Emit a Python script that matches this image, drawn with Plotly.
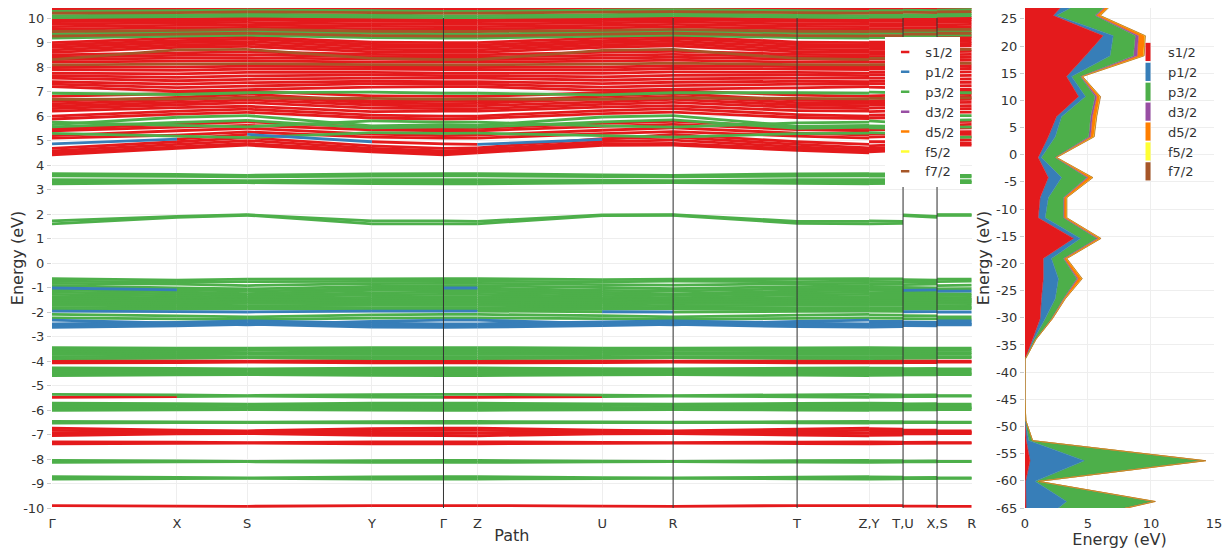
import plotly.graph_objects as go

# ---------------- band-structure path ----------------
tick_labels = ['Γ', 'X', 'S', 'Y', 'Γ', 'Z', 'U', 'R', 'T', 'Z,Y', 'T,U', 'X,S', 'R']
tick_positions = [0, 125, 195.3, 320, 391.6, 425.6, 550.3, 621.3, 745.3, 817.3, 851.3, 885.3, 920]
divider_positions = [391.6, 621.3, 745.3, 851.3, 885.3]
kpoints = ['Γ', 'X', 'S', 'Y', 'Z', 'U', 'R', 'T']
# (from k-point, to k-point, from tick index, to tick index)
path_segments = [
    ('Γ', 'X', 0, 1), ('X', 'S', 1, 2), ('S', 'Y', 2, 3), ('Y', 'Γ', 3, 4),
    ('Γ', 'Z', 4, 5), ('Z', 'U', 5, 6), ('U', 'R', 6, 7), ('R', 'T', 7, 8),
    ('T', 'Z', 8, 9), ('Y', 'T', 9, 10), ('U', 'X', 10, 11), ('S', 'R', 11, 12)]

orbital_names = ['s1/2', 'p1/2', 'p3/2', 'd3/2', 'd5/2', 'f5/2', 'f7/2']
orbital_colors = ['#e41a1c', '#377eb8', '#4daf4a', '#984ea3', '#ff7f00', '#ffff33', '#a65628']

# band energies (eV) at Γ, X, S, Y, Z, U, R, T ; colour code per band or per path segment
core_bands = [
    ('r', [-9.9, -9.92, -9.93, -9.9, -9.9, -9.92, -9.93, -9.9]),
    ('g', [-8.72, -8.75, -8.77, -8.73, -8.72, -8.76, -8.77, -8.74]),
    ('g', [-8.82, -8.8, -8.79, -8.82, -8.82, -8.8, -8.79, -8.81]),
    ('g', [-8.06, -8.08, -8.1, -8.07, -8.06, -8.09, -8.1, -8.07]),
    ('g', [-8.14, -8.12, -8.11, -8.14, -8.14, -8.12, -8.11, -8.13]),
    ('r', [-7.3, -7.31, -7.33, -7.3, -7.3, -7.32, -7.33, -7.31]),
    ('r', [-7.38, -7.36, -7.35, -7.38, -7.38, -7.36, -7.35, -7.37]),
    ('r', [-6.74, -6.82, -6.85, -6.76, -6.74, -6.82, -6.85, -6.78]),
    ('r', [-6.83, -6.87, -6.89, -6.84, -6.83, -6.88, -6.9, -6.86]),
    ('r', [-6.93, -6.92, -6.93, -6.93, -6.94, -6.92, -6.93, -6.94]),
    ('r', [-7.04, -6.97, -6.96, -7.03, -7.05, -6.97, -6.96, -7.02]),
    ('g', [-6.47, -6.49, -6.5, -6.48, -6.47, -6.49, -6.5, -6.48]),
    ('g', [-6.53, -6.51, -6.51, -6.52, -6.53, -6.51, -6.51, -6.52]),
    ('g', [-5.72, -5.74, -5.76, -5.72, -5.72, -5.75, -5.76, -5.73]),
    ('g', [-5.8, -5.78, -5.82, -5.8, -5.8, -5.79, -5.83, -5.8]),
    ('g', [-5.88, -5.88, -5.9, -5.87, -5.88, -5.89, -5.9, -5.88]),
    ('g', [-5.95, -5.93, -5.92, -5.95, -5.95, -5.93, -5.92, -5.94]),
    ('g', [-6.01, -5.99, -5.98, -6.0, -6.01, -5.99, -5.98, -6.0]),
    ('g', [-5.36, -5.38, -5.41, -5.37, -5.36, -5.39, -5.41, -5.38]),
    ('rgggrrgggggg', [-5.48, -5.45, -5.43, -5.47, -5.48, -5.45, -5.43, -5.46]),
    ('g', [-4.28, -4.3, -4.32, -4.29, -4.28, -4.31, -4.32, -4.29]),
    ('g', [-4.36, -4.38, -4.36, -4.37, -4.36, -4.38, -4.37, -4.37]),
    ('g', [-4.44, -4.42, -4.45, -4.43, -4.44, -4.43, -4.45, -4.44]),
    ('g', [-4.52, -4.5, -4.52, -4.52, -4.52, -4.5, -4.52, -4.51]),
    ('g', [-4.6, -4.56, -4.55, -4.59, -4.6, -4.56, -4.55, -4.58]),
    ('r', [-3.98, -4.0, -4.01, -3.98, -3.98, -4.0, -4.01, -3.99]),
    ('r', [-4.08, -4.06, -4.04, -4.08, -4.08, -4.06, -4.04, -4.07]),
    ('g', [-3.45, -3.47, -3.48, -3.45, -3.45, -3.47, -3.48, -3.46]),
    ('g', [-3.55, -3.53, -3.56, -3.55, -3.55, -3.54, -3.56, -3.55]),
    ('g', [-3.64, -3.62, -3.66, -3.63, -3.64, -3.62, -3.66, -3.64]),
    ('g', [-3.73, -3.72, -3.72, -3.73, -3.73, -3.71, -3.72, -3.73]),
    ('g', [-3.82, -3.8, -3.82, -3.82, -3.82, -3.81, -3.82, -3.82]),
    ('g', [-3.9, -3.88, -3.86, -3.9, -3.9, -3.88, -3.86, -3.89]),
]

valence_bands = [
    ('b', [-2.48, -2.42, -2.36, -2.45, -2.48, -2.4, -2.36, -2.45]),
    ('b', [-2.56, -2.5, -2.44, -2.54, -2.56, -2.48, -2.44, -2.52]),
    ('b', [-2.63, -2.56, -2.5, -2.62, -2.62, -2.55, -2.5, -2.6]),
    ('b', [-2.33, -2.45, -2.52, -2.38, -2.33, -2.47, -2.52, -2.38]),
    ('g', [-2.24, -2.28, -2.3, -2.25, -2.24, -2.27, -2.3, -2.26]),
    ('g', [-2.1, -2.16, -2.2, -2.12, -2.1, -2.15, -2.2, -2.13]),
    ('bbbbbgbgggbb', [-1.96, -1.98, -2.0, -1.96, -1.96, -1.99, -2.0, -1.97]),
    ('g', [-0.64, -0.7, -0.66, -0.65, -0.64, -0.68, -0.66, -0.65]),
    ('g', [-0.74, -0.78, -0.76, -0.75, -0.74, -0.77, -0.74, -0.76]),
    ('g', [-0.83, -0.86, -0.92, -0.84, -0.83, -0.88, -0.9, -0.85]),
    ('g', [-0.92, -1.02, -1.06, -0.95, -0.92, -1.0, -1.05, -0.96]),
    ('bgggbgggggbb', [-1.02, -1.1, -1.15, -1.04, -1.02, -1.12, -1.15, -1.05]),
    ('g', [-1.1, -1.18, -1.25, -1.12, -1.1, -1.2, -1.26, -1.14]),
    ('g', [-1.19, -1.26, -1.32, -1.22, -1.19, -1.28, -1.33, -1.22]),
    ('g', [-1.28, -1.34, -1.4, -1.3, -1.28, -1.36, -1.42, -1.3]),
    ('g', [-1.37, -1.42, -1.46, -1.4, -1.37, -1.44, -1.48, -1.4]),
    ('g', [-1.46, -1.48, -1.52, -1.48, -1.46, -1.5, -1.54, -1.48]),
    ('g', [-1.55, -1.56, -1.58, -1.56, -1.55, -1.56, -1.6, -1.56]),
    ('g', [-1.64, -1.62, -1.65, -1.64, -1.64, -1.62, -1.66, -1.64]),
    ('g', [-1.73, -1.7, -1.74, -1.72, -1.73, -1.7, -1.75, -1.72]),
    ('g', [-1.82, -1.8, -1.8, -1.82, -1.82, -1.8, -1.82, -1.82]),
    ('g', [-1.9, -1.88, -1.86, -1.9, -1.9, -1.88, -1.86, -1.89]),
    ('g', [1.72, 1.9, 1.97, 1.72, 1.7, 1.96, 1.97, 1.7]),
    ('g', [1.6, 1.86, 1.95, 1.6, 1.6, 1.94, 1.95, 1.62]),
    ('g', [3.65, 3.62, 3.58, 3.64, 3.65, 3.6, 3.58, 3.64]),
    ('g', [3.56, 3.54, 3.52, 3.55, 3.56, 3.53, 3.52, 3.55]),
    ('g', [3.4, 3.38, 3.36, 3.4, 3.4, 3.38, 3.36, 3.4]),
    ('g', [3.32, 3.32, 3.3, 3.32, 3.32, 3.31, 3.3, 3.32]),
    ('g', [3.23, 3.27, 3.28, 3.24, 3.23, 3.27, 3.28, 3.25]),
]

conduction_bands = [
    ('r', [4.42, 4.68, 4.81, 4.54, 4.50, 4.80, 4.81, 4.60]),
    ('r', [4.50, 4.74, 4.88, 4.60, 4.56, 4.86, 4.88, 4.66]),
    ('r', [4.58, 4.84, 5.00, 4.68, 4.62, 4.96, 5.02, 4.74]),
    ('r', [4.68, 4.95, 5.12, 4.78, 4.70, 5.08, 5.14, 4.84]),
    ('brbrrbrrrrrr', [4.86, 5.06, 5.25, 4.95, 4.84, 5.05, 5.25, 4.95]),
    ('r', [5.10, 5.22, 5.35, 5.14, 5.10, 5.28, 5.36, 5.18]),
    ('r', [5.20, 5.40, 5.50, 5.26, 5.22, 5.42, 5.52, 5.30]),
    ('g', [5.29, 5.18, 5.12, 5.32, 5.30, 5.20, 5.14, 5.28]),
    ('r', [5.40, 5.55, 5.62, 5.44, 5.40, 5.58, 5.66, 5.45]),
    ('r', [5.48, 5.66, 5.76, 5.55, 5.50, 5.70, 5.78, 5.56]),
    ('g', [5.56, 5.74, 5.82, 5.52, 5.55, 5.76, 5.84, 5.50]),
    ('g', [5.65, 5.95, 6.02, 5.60, 5.62, 5.96, 6.02, 5.58]),
    ('g', [5.75, 5.62, 5.56, 5.80, 5.75, 5.60, 5.55, 5.72]),
    ('r', [5.88, 6.08, 6.15, 5.92, 5.90, 6.10, 6.16, 5.94]),
    ('r', [6.00, 6.20, 6.28, 6.04, 6.00, 6.22, 6.30, 6.06]),
    ('r', [6.20, 6.34, 6.40, 6.18, 6.20, 6.36, 6.42, 6.22]),
    ('r', [6.30, 6.46, 6.55, 6.32, 6.30, 6.48, 6.56, 6.35]),
    ('r', [6.40, 6.56, 6.66, 6.45, 6.42, 6.58, 6.68, 6.45]),
    ('r', [6.50, 6.66, 6.78, 6.55, 6.52, 6.70, 6.80, 6.55]),
    ('r', [6.60, 6.76, 6.90, 6.62, 6.60, 6.80, 6.92, 6.65]),
    ('n', [6.68, 6.70, 6.74, 6.72, 6.70, 6.68, 6.74, 6.72]),
    ('r', [6.80, 6.92, 7.02, 6.82, 6.80, 6.95, 7.04, 6.85]),
    ('g', [6.93, 6.88, 6.95, 6.98, 6.93, 6.86, 6.95, 6.95]),
    ('r', [7.20, 7.02, 7.08, 7.18, 7.20, 7.05, 7.10, 7.15]),
    ('r', [7.30, 7.16, 7.22, 7.32, 7.30, 7.18, 7.24, 7.30]),
    ('r', [7.40, 7.30, 7.36, 7.42, 7.40, 7.32, 7.38, 7.42]),
    ('r', [7.55, 7.44, 7.50, 7.55, 7.55, 7.46, 7.52, 7.55]),
    ('r', [7.65, 7.58, 7.64, 7.68, 7.65, 7.60, 7.66, 7.68]),
    ('r', [7.75, 7.72, 7.78, 7.78, 7.75, 7.74, 7.80, 7.78]),
    ('r', [7.90, 7.86, 7.92, 7.92, 7.90, 7.88, 7.94, 7.92]),
    ('r', [8.00, 8.00, 8.04, 8.02, 8.00, 8.00, 8.06, 8.02]),
    ('n', [8.09, 8.12, 8.14, 8.10, 8.09, 8.12, 8.16, 8.10]),
    ('r', [8.20, 8.24, 8.26, 8.20, 8.20, 8.24, 8.28, 8.20]),
    ('r', [8.30, 8.36, 8.38, 8.32, 8.30, 8.36, 8.40, 8.32]),
    ('n', [8.30, 8.70, 8.72, 8.35, 8.30, 8.68, 8.72, 8.35]),
    ('r', [8.40, 8.48, 8.50, 8.42, 8.40, 8.48, 8.52, 8.42]),
    ('r', [8.50, 8.58, 8.62, 8.52, 8.50, 8.60, 8.64, 8.52]),
    ('r', [8.60, 8.80, 8.84, 8.62, 8.60, 8.80, 8.86, 8.62]),
    ('r', [8.70, 8.90, 8.94, 8.72, 8.70, 8.90, 8.96, 8.72]),
    ('r', [8.80, 9.00, 9.04, 8.82, 8.80, 9.00, 9.06, 8.82]),
    ('r', [8.90, 9.08, 9.14, 8.92, 8.90, 9.08, 9.16, 8.92]),
    ('r', [9.00, 9.18, 9.22, 9.02, 9.00, 9.18, 9.24, 9.02]),
    ('g', [9.18, 9.26, 9.30, 9.20, 9.18, 9.26, 9.30, 9.20]),
    ('n', [9.26, 9.34, 9.38, 9.28, 9.26, 9.34, 9.38, 9.28]),
    ('g', [9.35, 9.42, 9.46, 9.38, 9.35, 9.42, 9.46, 9.38]),
    ('n', [9.45, 9.50, 9.54, 9.46, 9.45, 9.50, 9.54, 9.46]),
    ('r', [9.55, 9.60, 9.62, 9.56, 9.55, 9.60, 9.64, 9.56]),
    ('r', [9.65, 9.70, 9.72, 9.66, 9.65, 9.70, 9.74, 9.66]),
    ('r', [9.75, 9.80, 9.82, 9.76, 9.75, 9.80, 9.84, 9.76]),
    ('r', [9.85, 9.88, 9.92, 9.86, 9.85, 9.90, 9.94, 9.86]),
    ('r', [9.93, 9.96, 10.0, 9.94, 9.93, 9.98, 10.02, 9.94]),
    ('g', [10.02, 10.06, 10.08, 10.04, 10.02, 10.06, 10.1, 10.04]),
    ('g', [10.10, 10.13, 10.16, 10.12, 10.10, 10.14, 10.18, 10.12]),
    ('n', [10.20, 10.22, 10.25, 10.22, 10.20, 10.24, 10.26, 10.22]),
    ('g', [10.27, 10.30, 10.32, 10.30, 10.27, 10.32, 10.34, 10.30]),
    ('r', [10.35, 10.38, 10.40, 10.36, 10.35, 10.40, 10.42, 10.36]),
    ('r', [10.43, 10.46, 10.48, 10.44, 10.43, 10.48, 10.50, 10.44]),
]

band_ticks = list(range(-10, 11))
band_ticktext = [str(v) for v in band_ticks]

# ---------------- projected DOS ----------------
dos_energy = [-67.5, -63.8, -60.1, -56.3, -52.6, -48.9, -45.1, -41.4, -37.7, -34.0, -30.2,
              -26.5, -22.8, -19.1, -15.4, -11.6, -7.9, -4.2, -0.5, 3.3, 7.0, 10.7, 14.4,
              18.2, 21.9, 25.6, 29.3]
dos_s12 = [0.1, 0.1, 0.05, 0.4, 0.1, 0, 0, 0, 0, 0.6, 1.2, 1.3, 1.45, 1.45, 3.85, 1.05, 1.2,
           1.85, 1.05, 1.85, 2.5, 4.25, 3.3, 4.8, 6.2, 2.25, 3.7]
dos_p12 = [1.2, 3.2, 0.75, 4.3, 0.2, 0.02, 0, 0, 0, 0.1, 0.4, 1.1, 1.2, 0.65, 0.55, 0.55, 0.65,
           1.05, 0.25, 0.55, 0.4, 0.55, 0.4, 1.95, 0.8, 0.25, 1.7]
dos_p32 = [2.0, 6.9, 0.25, 9.5, 0.3, 0.05, 0, 0, 0, 0.15, 0.5, 0.65, 1.45, 0.95, 1.3, 1.45, 1.2,
           2.0, 1.1, 2.65, 2.3, 0.75, 0.7, 1.85, 1.75, 3.05, 1.9]
dos_d32 = [0, 0.02, 0, 0.02, 0, 0, 0, 0, 0, 0, 0.02, 0.03, 0.1, 0.05, 0.08, 0.05, 0.05, 0.1,
           0.02, 0.15, 0.15, 0.15, 0.05, 0.3, 0.25, 0.1, 0.1]
dos_d52 = [0.05, 0.1, 0.03, 0.1, 0.01, 0, 0, 0, 0, 0.02, 0.05, 0.1, 0.3, 0.2, 0.22, 0.2, 0.2,
           0.35, 0.08, 0.25, 0.3, 0.25, 0.1, 0.5, 0.5, 0.3, 0.2]
dos_f52 = [0, 0.01, 0, 0.01, 0, 0, 0, 0, 0, 0, 0, 0.01, 0.02, 0.01, 0.01, 0.01, 0.01, 0.02,
           0.01, 0.02, 0.02, 0.02, 0.01, 0.03, 0.03, 0.02, 0.02]
dos_f72 = [0.02, 0.03, 0.01, 0.03, 0, 0, 0, 0, 0, 0, 0.01, 0.02, 0.03, 0.02, 0.03, 0.02, 0.02,
           0.03, 0.01, 0.03, 0.03, 0.03, 0.02, 0.03, 0.03, 0.03, 0.02]
dos_series = [dos_s12, dos_p12, dos_p32, dos_d32, dos_d52, dos_f52, dos_f72]

dos_xticks = [0, 5, 10, 15]
dos_yticks = list(range(-65, 26, 5))
dos_yticktext = [str(v) for v in dos_yticks]

# ---------------- figure ----------------
code_color = {'r': orbital_colors[0], 'b': orbital_colors[1], 'g': orbital_colors[2], 'n': orbital_colors[6]}
seg_x = {c: [] for c in 'rgnb'}
seg_y = {c: [] for c in 'rgnb'}
for spec, energies in core_bands + valence_bands + conduction_bands:
    for i, (ka, kb, ta, tb) in enumerate(path_segments):
        c = spec if len(spec) == 1 else spec[i]
        seg_x[c] += [tick_positions[ta], tick_positions[tb], None]
        seg_y[c] += [energies[kpoints.index(ka)], energies[kpoints.index(kb)], None]

fig = go.Figure()
for c in 'rgnb':
    fig.add_trace(go.Scatter(x=seg_x[c], y=seg_y[c], mode='lines',
                             line=dict(color=code_color[c], width=2.8),
                             showlegend=False, hoverinfo='skip', xaxis='x', yaxis='y'))

for name, color in zip(orbital_names, orbital_colors):
    fig.add_trace(go.Scatter(x=[None], y=[None], mode='markers', name=name,
                             marker=dict(symbol='line-ew', size=6, line=dict(width=2.5, color=color)),
                             legend='legend', xaxis='x', yaxis='y'))

for name, color, vals in zip(orbital_names, orbital_colors, dos_series):
    fig.add_trace(go.Scatter(x=vals, y=dos_energy, mode='lines', name=name,
                             stackgroup='dos', orientation='h',
                             line=dict(color=color, width=0.6), fillcolor=color,
                             showlegend=False, xaxis='x2', yaxis='y2'))

for name, color in zip(orbital_names, orbital_colors):
    fig.add_trace(go.Scatter(x=[None], y=[None], mode='markers', name=name,
                             marker=dict(symbol='line-ns', size=13, line=dict(width=5, color=color)),
                             legend='legend2', xaxis='x2', yaxis='y2'))

shapes = [dict(type='line', xref='x', yref='y', x0=p, x1=p, y0=-10, y1=10,
               line=dict(color='#333333', width=1), layer='above') for p in divider_positions]

grid = '#eeeeee'
# the page body adds an 8 px offset, so the figure is 8 px smaller than the window
fig.update_layout(
    width=1223, height=541,
    margin=dict(l=44, r=17, t=0, b=41),
    paper_bgcolor='white', plot_bgcolor='white',
    font=dict(family='DejaVu Sans', size=13, color='#333333'),
    xaxis=dict(domain=[0, 0.7915], range=[0, 920], tickmode='array', tickvals=tick_positions,
               ticktext=tick_labels, showgrid=True, gridcolor=grid, zeroline=False,
               showline=False, ticks='outside', ticklen=3, tickcolor='rgba(0,0,0,0)',
               automargin=False, title=dict(text='Path', standoff=0)),
    yaxis=dict(domain=[0, 1], range=[-10, 10.41], tickmode='array', tickvals=band_ticks,
               ticktext=band_ticktext, ticks='outside', ticklen=4, tickcolor='#cccccc',
               showgrid=True, gridcolor=grid, zeroline=False, showline=False, automargin=False,
               title=dict(text='Energy (eV)', standoff=3)),
    xaxis2=dict(domain=[0.8373, 1], range=[0, 15], anchor='y2', tickmode='array',
                tickvals=dos_xticks, ticktext=[str(v) for v in dos_xticks],
                showgrid=True, gridcolor=grid, zeroline=False, showline=False,
                ticks='outside', ticklen=3, tickcolor='rgba(0,0,0,0)',
                automargin=False, title=dict(text='Energy (eV)', standoff=3)),
    yaxis2=dict(domain=[0, 1], range=[-65, 27], anchor='x2', tickmode='array',
                tickvals=dos_yticks, ticktext=dos_yticktext, ticks='outside', ticklen=4,
                tickcolor='#cccccc', showgrid=True, gridcolor=grid, zeroline=False,
                showline=False, automargin=False, title=dict(text='Energy (eV)', standoff=2)),
    legend=dict(x=0.717, y=0.942, xanchor='left', yanchor='top', bgcolor='white',
                font=dict(size=13), borderwidth=0, traceorder='normal'),
    legend2=dict(x=0.926, y=0.942, xanchor='left', yanchor='top', bgcolor='rgba(0,0,0,0)',
                 font=dict(size=13), borderwidth=0, traceorder='normal'),
    shapes=shapes,
)

fig.write_html('out.html')
